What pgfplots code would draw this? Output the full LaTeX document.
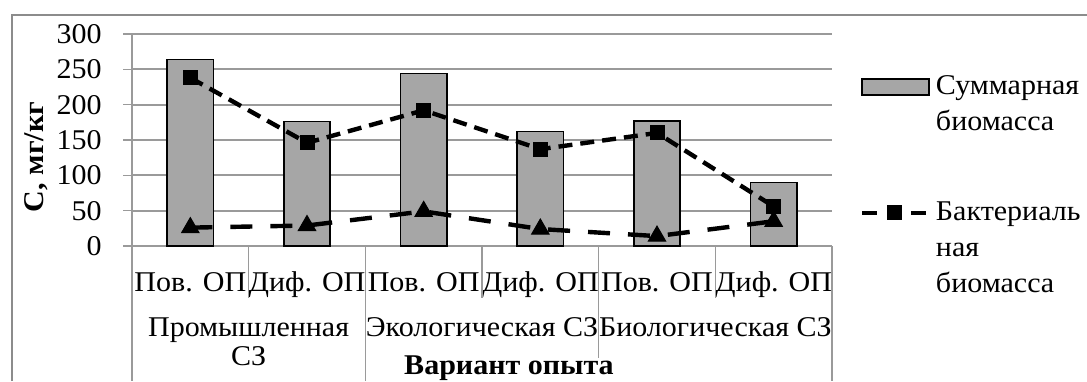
\documentclass[border=0pt]{standalone}
\usepackage{fontspec}
\setmainfont[FakeStretch=1.05]{Liberation Serif}
\usepackage{pgfplots}
\pgfplotsset{compat=1.18}
\definecolor{barcol}{HTML}{A6A6A6}
\definecolor{gridc}{HTML}{9A9A9A}
\definecolor{framec}{HTML}{8C8C8C}
\begin{document}
\begin{tikzpicture}[font=\fontsize{14.3pt}{17pt}\selectfont]
\path[use as bounding box] (0pt,0pt) rectangle (543.5pt,190.5pt);
\draw[framec, line width=0.7pt] (6pt,0pt) -- (6pt,183pt) -- (543.5pt,183pt);
\begin{axis}[
  at={(66pt,67.5pt)}, anchor=south west,
  scale only axis, width=350pt, height=106pt,
  xmin=-0.5, xmax=5.5, ymin=0, ymax=300,
  ytick={0,50,...,300},
  xtick={0,...,5},
  xticklabels={Пов. ОП, Диф. ОП, Пов. ОП, Диф. ОП, Пов. ОП, Диф. ОП},
  axis lines*=left,
  axis line style={gridc, line width=0.75pt},
  ymajorgrids, grid style={gridc, line width=0.9pt},
  major x tick style={draw=none},
  major y tick style={gridc, line width=0.75pt},
  tick align=outside, major tick length=4.5pt,
  /pgf/number format/assume math mode=true,
  tick label style={font=\fontsize{14.3pt}{17pt}\selectfont},
  xticklabel style={anchor=base, yshift=-18pt},
  yticklabel style={anchor=east, inner sep=0pt, xshift=-10.5pt},
  clip=false,
  legend style={at={(1.04,0.821)}, anchor=north west, draw=none, fill=none,
    inner sep=0pt, outer sep=0pt, row sep=30pt, column sep=1pt,
    font=\fontsize{14.3pt}{18pt}\selectfont,
    cells={anchor=west, align=left, inner sep=0pt}},
]
\addplot[ybar, bar width=23.2pt, fill=barcol, draw=black, line width=0.8pt,
  legend image code/.code={\path[draw=none,fill=none] (0pt,-13pt) -- (0pt,13pt);
    \draw[fill=barcol,draw=black,line width=0.8pt] (0pt,5pt) rectangle (33.5pt,13pt);}]
  coordinates {(0,264) (1,176) (2,244) (3,162) (4,177) (5,90)};
\addlegendentry{Суммарная\\биомасса}
\addplot[black, line width=2.2pt, dash pattern=on 7pt off 4pt,
  mark=square*, mark size=3.5pt, mark options={solid, line width=0.5pt},
  legend image code/.code={\path[draw=none,fill=none] (0pt,-22pt) -- (0pt,22pt);
    \draw[black, line width=2.2pt, dash pattern=on 7.5pt off 17pt on 8pt off 1pt, mark=square*, mark size=3.5pt, mark options={solid, line width=0.5pt}, mark repeat=2, mark phase=2] plot coordinates {(0pt,18pt) (16pt,18pt) (32pt,18pt)};}]
  coordinates {(0,238) (1,146) (2,192) (3,137) (4,160) (5,56)};
\addlegendentry{Бактериаль\\ная\\биомасса}
\addplot[black, line width=2.2pt, dash pattern=on 11pt off 9pt,
  mark=triangle*, mark size=5pt, mark options={solid, line width=0.5pt}, forget plot]
  coordinates {(0,26) (1,29) (2,49) (3,24) (4,14) (5,35)};
\end{axis}
\draw[gridc, line width=0.75pt]
  (66pt,67.5pt) -- (66pt,0pt)
  (124.33pt,67.5pt) -- (124.33pt,41.5pt)
  (182.67pt,67.5pt) -- (182.67pt,0pt)
  (241pt,67.5pt) -- (241pt,41.5pt)
  (299.33pt,67.5pt) -- (299.33pt,11.5pt)
  (357.67pt,67.5pt) -- (357.67pt,41.5pt)
  (416pt,67.5pt) -- (416pt,0pt);
\node[rotate=90, font=\bfseries\fontsize{14.3pt}{17pt}\selectfont] at (18pt,112pt) {С, мг/кг};
\node[anchor=base] at (124.3pt,22.2pt) {Промышленная};
\node[anchor=base] at (124.3pt,8pt) {СЗ};
\node[anchor=base] at (241pt,22.2pt) {Экологическая СЗ};
\node[anchor=base] at (357.7pt,22.2pt) {Биологическая СЗ};
\node[anchor=base, font=\bfseries\fontsize{14.3pt}{17pt}\selectfont] at (254.5pt,3.3pt) {Вариант опыта};
\end{tikzpicture}
\end{document}
